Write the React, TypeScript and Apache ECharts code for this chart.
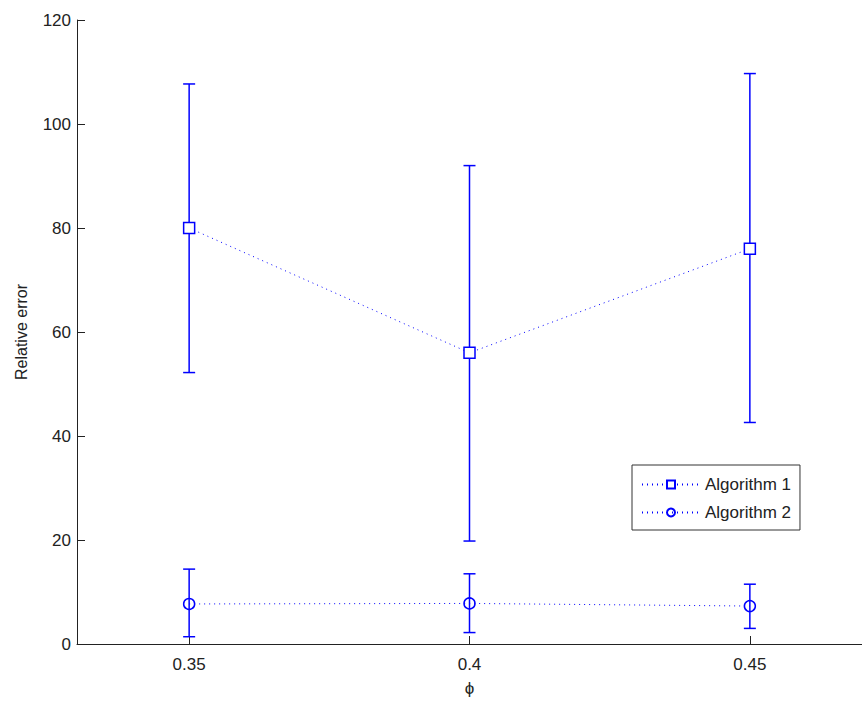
import React, { useEffect, useRef } from "react";
import * as echarts from "echarts";

const phiValues = [0.35, 0.4, 0.45];
const alg1Mean = [80, 56, 76];
const alg1Low = [52.2, 19.8, 42.6];
const alg1High = [107.7, 92, 109.7];
const alg2Mean = [7.7, 7.8, 7.3];
const alg2Low = [1.4, 2.2, 3.0];
const alg2High = [14.4, 13.5, 11.5];
const xTicks = [0.35, 0.4, 0.45];
const yTicks = [0, 20, 40, 60, 80, 100, 120];

const BLUE = "#0000ff";
const FONT = "'Liberation Sans', Arial, sans-serif";

function errorData(low: number[], high: number[]) {
  return phiValues.map((x, i) => [x, low[i], high[i]]);
}

function renderErrorBar(_params: any, api: any) {
  const x = api.value(0);
  const lo = api.coord([x, api.value(1)]);
  const hi = api.coord([x, api.value(2)]);
  const half = 6;
  const style = { stroke: BLUE, lineWidth: 1.5, fill: "none" };
  return {
    type: "group",
    children: [
      { type: "line", shape: { x1: lo[0], y1: lo[1], x2: hi[0], y2: hi[1] }, style },
      { type: "line", shape: { x1: lo[0] - half, y1: lo[1], x2: lo[0] + half, y2: lo[1] }, style },
      { type: "line", shape: { x1: hi[0] - half, y1: hi[1], x2: hi[0] + half, y2: hi[1] }, style },
    ],
  };
}

export default function App() {
  const ref = useRef<HTMLDivElement>(null);
  useEffect(() => {
    document.body.style.margin = "0";
    document.body.style.overflow = "hidden";
    const chart = echarts.init(ref.current!, undefined, { renderer: "svg" });
    const axisColor = "#222";
    chart.setOption({
      animation: false,
      backgroundColor: "#fff",
      grid: { left: 77, right: -11, top: 20, bottom: 56, containLabel: false },
      legend: {
        orient: "vertical",
        left: 632,
        top: 465,
        padding: [11, 9, 9, 9],
        itemWidth: 58,
        itemHeight: 10,
        itemGap: 11,
        borderColor: "#333",
        borderWidth: 1,
        textStyle: { fontSize: 17, color: "#222", fontFamily: FONT },
        data: ["Algorithm 1", "Algorithm 2"],
      },
      xAxis: {
        type: "value",
        min: 0.33,
        max: 0.47,
        name: "ϕ",
        nameLocation: "middle",
        nameGap: 36,
        nameTextStyle: { fontSize: 17, color: axisColor, fontFamily: FONT },
        splitLine: { show: false },
        axisLine: { lineStyle: { color: axisColor, width: 1 } },
        axisTick: { inside: true, length: 8, customValues: xTicks, lineStyle: { color: axisColor } },
        axisLabel: {
          margin: 12,
          fontSize: 17,
          color: axisColor,
          fontFamily: FONT,
          customValues: xTicks,
          formatter: (v: number) => String(Number(v.toFixed(2))),
        },
      },
      yAxis: {
        type: "value",
        min: 0,
        max: 120,
        interval: 20,
        name: "Relative error",
        nameLocation: "middle",
        nameGap: 48,
        nameTextStyle: { fontSize: 16, color: axisColor, fontFamily: FONT },
        splitLine: { show: false },
        axisLine: { show: true, lineStyle: { color: axisColor, width: 1 } },
        axisTick: { show: true, inside: true, length: 8, lineStyle: { color: axisColor } },
        axisLabel: {
          margin: 6,
          fontSize: 17,
          color: axisColor,
          fontFamily: FONT,
          formatter: (v: number) => (yTicks.includes(v) ? String(v) : ""),
        },
      },
      series: [
        {
          name: "err1",
          type: "custom",
          renderItem: renderErrorBar,
          data: errorData(alg1Low, alg1High),
          z: 1,
        },
        {
          name: "err2",
          type: "custom",
          renderItem: renderErrorBar,
          data: errorData(alg2Low, alg2High),
          z: 1,
        },
        {
          name: "Algorithm 1",
          type: "line",
          data: phiValues.map((x, i) => [x, alg1Mean[i]]),
          symbol: "rect",
          symbolSize: 11,
          itemStyle: { color: "#fff", borderColor: BLUE, borderWidth: 1.5 },
          lineStyle: { color: BLUE, width: 1, type: [1, 4] },
          z: 2,
        },
        {
          name: "Algorithm 2",
          type: "line",
          data: phiValues.map((x, i) => [x, alg2Mean[i]]),
          symbol: "circle",
          symbolSize: 11,
          itemStyle: { color: "rgba(255,255,255,0)", borderColor: BLUE, borderWidth: 1.5 },
          lineStyle: { color: BLUE, width: 1, type: [1, 4] },
          z: 2,
        },
      ],
    });
    return () => chart.dispose();
  }, []);
  return (
    <div
      ref={ref}
      style={{ position: "fixed", left: 0, top: 0, width: 862, height: 702 }}
    />
  );
}
